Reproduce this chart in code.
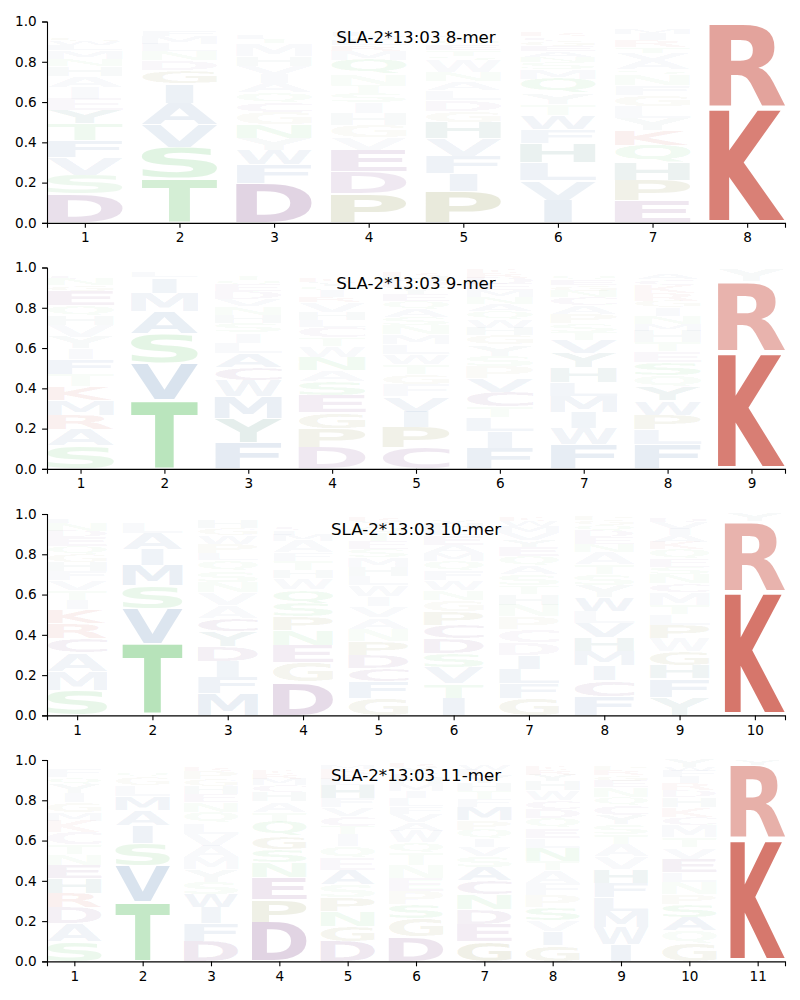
<!DOCTYPE html>
<html>
<head>
<meta charset="utf-8">
<script src="https://cdn.jsdelivr.net/npm/d3@7"></script>
<style>
  body { margin: 0; background: #fff; }
  svg { display: block; font-family: 'DejaVu Sans', sans-serif; }
</style>
</head>
<body>
<div id="chart"></div>
<script>
/* Data: letters per position, bottom of stack first, heights in same order
-----------------------------------------------------------------------------*/
const letters8 = [
  'DSVFTYEIAHNMLWGQRCKP',
  'TSVAIGDNLMFYQPECKH',
  'DFWYNGCQAIVHMTLSEPRK',
  'PDEVGHISTNQMRLWFYCK',
  'PIFVHGDLANWSTEQYCRKM',
  'IVLHFWTYQMSNAEGCRPKD',
  'EPHQKYLGFNSAVTRIMCWD',
  'KRY'
];
const heights8 = [
  [.143, .095, .088, .083, .083, .066, .058, .058, .055, .048, .036, .043, .025, .022, .02, .018, .017, .015, .013, .008],
  [.22, .156, .112, .106, .096, .066, .05, .045, .038, .04, .023, .012, .01, .008, .006, .006, .005, .003],
  [.196, .095, .071, .058, .066, .061, .05, .05, .046, .046, .04, .05, .063, .022, .02, .018, .014, .012, .01, .008],
  [.146, .108, .108, .061, .061, .06, .053, .046, .041, .055, .07, .046, .028, .025, .02, .02, .018, .012, .012],
  [.154, .091, .086, .086, .083, .055, .055, .05, .043, .045, .06, .02, .03, .025, .025, .02, .018, .015, .015, .012],
  [.113, .096, .09, .096, .07, .07, .055, .055, .07, .05, .032, .028, .028, .026, .025, .022, .02, .018, .016, .01],
  [.109, .1, .09, .088, .071, .061, .058, .058, .05, .055, .023, .046, .036, .027, .033, .033, .028, .012, .01, .006],
  [.572, .42, .006]
];

const letters9 = [
  'SARMKTFIYVHQEGNCLWP',
  'TVSAMILFYQG',
  'FYMWCALISHNVDEQTGPR',
  'DPGESANWTCLHVRIQYKMF',
  'CPIVFGTWLMNSAQEYDHRK',
  'FILTCVPSYGHWQANMEDRK',
  'FWIMLHYVTSPACNGEQRKD',
  'FLPWYQSETHMNIGRKCADV',
  'KRYA'
];
const heights9 = [
  [.115, .079, .074, .071, .069, .063, .072, .054, .058, .058, .049, .049, .071, .03, .03, .02, .015, .012, .006],
  [.342, .184, .145, .11, .092, .077, .028, .008, .006, .004, .002],
  [.132, .12, .107, .079, .066, .069, .053, .05, .046, .043, .043, .036, .04, .03, .025, .02, .015, .012, .01],
  [.107, .092, .08, .087, .07, .053, .066, .053, .043, .053, .033, .041, .05, .025, .03, .025, .02, .02, .018, .018],
  [.105, .1, .078, .075, .06, .05, .05, .05, .05, .05, .045, .04, .04, .04, .035, .035, .03, .025, .02, .015],
  [.104, .082, .07, .052, .074, .067, .058, .054, .056, .046, .038, .041, .041, .036, .035, .035, .03, .03, .025, .02],
  [.12, .082, .078, .079, .069, .074, .071, .066, .041, .041, .049, .041, .041, .03, .03, .025, .025, .015, .012, .006],
  [.12, .074, .074, .07, .066, .06, .066, .054, .044, .058, .033, .041, .041, .033, .04, .04, .03, .025, .015, .01],
  [.58, .35, .06, .005]
];

const letters10 = [
  'SMACRKITVFHGQEDNLWYP',
  'TVSMIALFYQGN',
  'MFIDYCAVNSQLPWGHTER',
  'DGENPSQWHTFAMLCYVIRK',
  'GFCDPNAVIWLHMSETQYRK',
  'ITVSDCPGNWFQMAELHYRK',
  'GFLIDCPNHTSAQEYVMWKR',
  'FCIMHVLWYSTANEDQGPRK',
  'YFHGWPLTMCNSEQKAIVDR',
  'KRY'
];
const heights10 = [
  [.124, .096, .091, .073, .071, .07, .048, .046, .05, .045, .046, .041, .038, .045, .033, .038, .02, .012, .008, .005],
  [.355, .173, .116, .1, .08, .078, .054, .015, .01, .008, .006, .003],
  [.107, .083, .078, .076, .073, .066, .063, .063, .053, .058, .05, .036, .046, .041, .036, .043, .012, .008, .004],
  [.165, .096, .086, .074, .069, .068, .066, .056, .043, .045, .041, .058, .03, .022, .02, .018, .018, .012, .008, .005],
  [.086, .08, .066, .066, .069, .063, .056, .056, .05, .053, .045, .045, .05, .04, .04, .04, .035, .025, .02, .015],
  [.086, .071, .078, .071, .074, .069, .066, .055, .05, .05, .05, .045, .038, .041, .05, .025, .03, .02, .015, .012],
  [.086, .071, .074, .069, .063, .063, .064, .058, .055, .041, .058, .041, .046, .045, .035, .035, .035, .025, .02, .015],
  [.094, .079, .074, .071, .069, .071, .061, .066, .061, .055, .05, .058, .041, .033, .03, .03, .025, .02, .008, .002],
  [.091, .091, .066, .071, .064, .066, .055, .045, .06, .045, .045, .038, .041, .045, .038, .033, .033, .033, .02, .013],
  [.615, .347, .038]
];

const letters11 = [
  'SADRHENTCKMGIYQFLVWP',
  'TVSIAMLGQNFYPER',
  'DFIWSYMAVLQNEHGPRTCK',
  'DPENSGQTAHCMRKLVIWFY',
  'DGNPSAEQITCVFHLKRMYW',
  'DGSPENTQWAVFLIMHCYRK',
  'GEDNCASVIQPMFTHYLWRK',
  'GIVSPFATNLEQDCWHYRKM',
  'IWMLFHVATSYCQNEGRPKD',
  'GQASPNLEVTMCKHDRIFWY',
  'KRY'
];
const heights11 = [
  [.1, .088, .078, .074, .071, .066, .053, .05, .06, .058, .041, .05, .045, .046, .033, .041, .015, .012, .01, .008],
  [.294, .182, .112, .089, .071, .07, .055, .041, .025, .015, .012, .012, .008, .006, .004],
  [.1, .09, .078, .066, .061, .06, .061, .058, .058, .055, .053, .05, .038, .04, .038, .041, .02, .015, .01, .006],
  [.195, .112, .11, .074, .066, .066, .07, .05, .05, .046, .036, .03, .025, .02, .018, .012, .008, .006, .003, .002],
  [.1, .074, .073, .071, .063, .073, .06, .057, .06, .04, .05, .043, .045, .066, .03, .025, .025, .02, .015, .008],
  [.124, .09, .07, .065, .065, .065, .06, .05, .058, .043, .043, .036, .04, .035, .035, .03, .03, .025, .02, .015],
  [.1, .086, .074, .071, .07, .066, .055, .045, .04, .046, .045, .066, .04, .04, .04, .035, .03, .025, .012, .01],
  [.08, .07, .052, .066, .058, .063, .061, .045, .066, .05, .05, .05, .045, .045, .05, .045, .03, .025, .02, .015],
  [.084, .086, .08, .069, .071, .069, .062, .062, .046, .05, .045, .05, .041, .05, .03, .03, .025, .02, .015, .01],
  [.09, .063, .066, .066, .05, .058, .05, .066, .055, .05, .06, .041, .05, .05, .033, .035, .03, .03, .02, .04],
  [.608, .364, .028]
];

const titles = [
  'SLA-2*13:03 8-mer',
  'SLA-2*13:03 9-mer',
  'SLA-2*13:03 10-mer',
  'SLA-2*13:03 11-mer'
];
const yTicks = [0, 0.2, 0.4, 0.6, 0.8, 1];

const panels = [
  { title: titles[0], letters: letters8, heights: heights8 },
  { title: titles[1], letters: letters9, heights: heights9 },
  { title: titles[2], letters: letters10, heights: heights10 },
  { title: titles[3], letters: letters11, heights: heights11 }
];

/* Residue colours
-----------------------------------------------------------------------------*/
const groupColors = [
  ['DEC', 'rgb(88,15,102)'],
  ['KR', 'rgb(187,30,12)'],
  ['STNQ', 'rgb(46,175,55)'],
  ['GP', 'rgb(95,100,0)'],
  ['HY', 'rgb(10,90,80)'],
  ['AVLIMFW', 'rgb(32,87,152)']
];

function residueColor(letter) {
  return groupColors.find((group) => group[0].includes(letter))[1];
}

// the faintest letters stay just visible
const opacity = d3
  .scaleLinear()
  .domain([0, 0.05, 0.15, 1])
  .range([0.015, 0.042, 0.135, 1]);

/* Layout
-----------------------------------------------------------------------------*/
const width = 800;
const height = 1000;
const left = 47;
const right = 785;
const panelTops = [21.5, 267.5, 514, 760];
const panelHeight = 201.4;
const vpad = 0.05;
const fontSize = 200;

const svg = d3
  .select('#chart')
  .append('svg')
  .attr('width', width)
  .attr('height', height)
  .attr('xmlns', 'http://www.w3.org/2000/svg');

/* Glyph metrics, so each letter's ink can be stretched into its box
-----------------------------------------------------------------------------*/
const measureContext = document.createElement('canvas').getContext('2d');
measureContext.font = `bold ${fontSize}px "DejaVu Sans"`;

function glyphBox(letter) {
  const m = measureContext.measureText(letter);
  return {
    left: -m.actualBoundingBoxLeft,
    right: m.actualBoundingBoxRight,
    ascent: m.actualBoundingBoxAscent,
    descent: m.actualBoundingBoxDescent
  };
}

const boxE = glyphBox('E');
const minInkWidth = boxE.right - boxE.left;

/* Drawing
-----------------------------------------------------------------------------*/
function drawPanel(panel, top) {
  const count = panel.letters.length;

  const x = d3
    .scaleLinear()
    .domain([0.6, count + 0.4])
    .range([left, right]);

  const y = d3
    .scaleLinear()
    .domain([0, 1])
    .range([top + panelHeight, top]);

  const columnWidth = x(1.4) - x(0.6);
  const cells = [];

  panel.letters.forEach((column, i) => {
    let floor = 0;
    Array.from(column).forEach((letter, j) => {
      const value = panel.heights[i][j];
      cells.push({ letter, value, position: i + 1, floor });
      floor += value;
    });
  });

  const group = svg.append('g').attr('class', 'panel');

  group
    .append('g')
    .selectAll('text')
    .data(cells)
    .join('text')
    .attr('font-size', fontSize)
    .attr('font-weight', 'bold')
    .attr('fill', (d) => residueColor(d.letter))
    .attr('fill-opacity', (d) => opacity(d.value))
    .attr('transform', (d) => {
      const box = glyphBox(d.letter);
      const inkWidth = box.right - box.left;
      const inkHeight = box.ascent + box.descent;
      const boxHeight = y(d.floor) - y(d.floor + d.value);
      const sx = columnWidth / Math.max(inkWidth, minInkWidth);
      const sy = (boxHeight * (1 - vpad)) / inkHeight;
      const bottom = y(d.floor) - (boxHeight * vpad) / 2;
      const tx = x(d.position) - (sx * (box.left + box.right)) / 2;
      return `translate(${tx},${bottom - sy * box.descent}) scale(${sx},${sy})`;
    })
    .text((d) => d.letter);

  const xAxis = d3
    .axisBottom(x)
    .tickValues(d3.range(1, count + 1))
    .tickFormat(d3.format('d'))
    .tickSize(4.9)
    .tickPadding(5);

  const yAxis = d3
    .axisLeft(y)
    .tickValues(yTicks)
    .tickFormat(d3.format('.1f'))
    .tickSize(4.9)
    .tickPadding(5.5);

  group
    .append('g')
    .attr('transform', `translate(0,${top + panelHeight})`)
    .call(xAxis)
    .call(styleAxis);

  group
    .append('g')
    .attr('transform', `translate(${left},0)`)
    .call(yAxis)
    .call(styleAxis);

  group
    .append('text')
    .attr('x', (left + right) / 2)
    .attr('y', top + 21)
    .attr('text-anchor', 'middle')
    .attr('font-size', 16.67)
    .attr('fill', '#000')
    .text(panel.title);
}

function styleAxis(axis) {
  axis.attr('font-family', null).attr('font-size', 13.6);
  axis.selectAll('.domain').attr('stroke', '#000').attr('stroke-width', 1.1);
  axis.selectAll('.tick line').attr('stroke', '#000').attr('stroke-width', 1.1);
  axis.selectAll('.tick text').attr('fill', '#000');
}

panels.forEach((panel, i) => drawPanel(panel, panelTops[i]));
</script>
</body>
</html>
